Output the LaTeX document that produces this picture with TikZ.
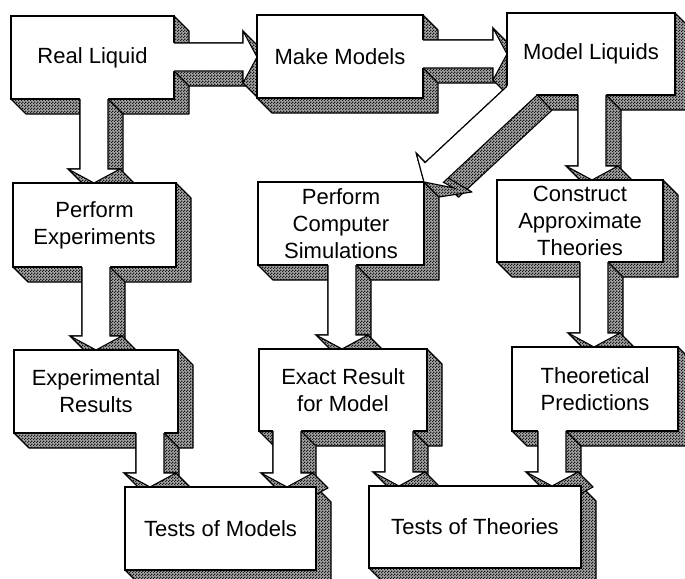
\documentclass[tikz,border=0pt]{standalone}
\usepackage{fontspec}
\setmainfont{Liberation Sans}
\usetikzlibrary{calc,patterns.meta}

\pgfdeclarelayer{back}
\pgfsetlayers{back,main}

\tikzdeclarepattern{
    name=dither, type=uncolored,
    bottom left={(0pt,0pt)}, top right={(3pt,3pt)}, tile size={(3pt,3pt)},
    code={
        \pgfpathrectangle{\pgfpoint{0pt}{0pt}}{\pgfpoint{1.5pt}{1.5pt}}
        \pgfpathrectangle{\pgfpoint{1.5pt}{1.5pt}}{\pgfpoint{1.5pt}{1.5pt}}
        \pgfusepath{fill}
    }
}

\tikzset{
    stage/.style={draw, fill=white, line width=1.1pt, inner sep=0pt, outer sep=0pt,
        align=center, font=\fontsize{22}{27}\selectfont},
    shadowface/.style={preaction={fill=black!35}, pattern=dither, pattern color=black!90,
        draw, line width=1.1pt, line join=round},
    rim/.style={line width=1.1pt, line join=miter}
}

\newcommand{\bdepth}{15}  % depth of the extrusion
\newcommand{\bshaft}{28}  % width of an arrow shaft
\newcommand{\bhead}{26}   % half width of an arrow head
\newcommand{\bheadlen}{14}% length of an arrow head

% shadow side of a box
\newcommand{\boxshade}[1]{%
    \draw[shadowface] (#1.north east) -- ++(\bdepth,-\bdepth)
        -- ($(#1.south east)+(\bdepth,-\bdepth)$) -- ($(#1.south west)+(\bdepth,-\bdepth)$)
        -- (#1.south west) -- (#1.south east) -- cycle;}

% block arrow going down: from, to, left x of shaft
\newcommand{\blockdown}[3]{%
    \path (#1.south); \pgfgetlastxy{\tmpx}{\tmpy}\pgfmathsetmacro{\yTop}{\tmpy}
    \path (#2.north); \pgfgetlastxy{\tmpx}{\tmpy}\pgfmathsetmacro{\yTip}{\tmpy}
    \pgfmathsetmacro{\shL}{#3}
    \pgfmathsetmacro{\shR}{#3+\bshaft}
    \pgfmathsetmacro{\shM}{#3+\bshaft/2}
    \pgfmathsetmacro{\yBase}{\yTip+\bheadlen}
    \begin{pgfonlayer}{back}
        \draw[shadowface] (\shL,\yTop) -- (\shR,\yTop) -- ++(\bdepth,-\bdepth)
            -- (\shR+\bdepth,\yBase-\bdepth) -- (\shL+\bdepth,\yBase-\bdepth) -- (\shL,\yBase) -- cycle;
        \draw[shadowface] (\shM-\bhead,\yBase) -- (\shM+\bhead,\yBase) -- ++(\bdepth,-\bdepth)
            -- (\shM+\bdepth,\yTip-\bdepth) -- (\shM-\bhead+\bdepth,\yBase-\bdepth) -- cycle;
    \end{pgfonlayer}
    \fill[white] (\shL,\yTop+2) -- (\shL,\yBase) -- (\shM-\bhead,\yBase) -- (\shM,\yTip)
        -- (\shM+\bhead,\yBase) -- (\shR,\yBase) -- (\shR,\yTop+2) -- cycle;
    \draw[rim] (\shL,\yTop) -- (\shL,\yBase) -- (\shM-\bhead,\yBase) -- (\shM,\yTip)
        -- (\shM+\bhead,\yBase) -- (\shR,\yBase) -- (\shR,\yTop);
}

% block arrow going right: from, to, top y of shaft
\newcommand{\blockright}[3]{%
    \path (#1.east); \pgfgetlastxy{\tmpx}{\tmpy}\pgfmathsetmacro{\xFrom}{\tmpx}
    \path (#2.west); \pgfgetlastxy{\tmpx}{\tmpy}\pgfmathsetmacro{\xTip}{\tmpx}
    \pgfmathsetmacro{\shT}{#3}
    \pgfmathsetmacro{\shB}{#3-\bshaft}
    \pgfmathsetmacro{\shM}{#3-\bshaft/2}
    \pgfmathsetmacro{\xBase}{\xTip-\bheadlen}
    \begin{pgfonlayer}{back}
        \draw[shadowface] (\xFrom,\shT) -- (\xBase,\shT) -- ++(\bdepth,-\bdepth)
            -- (\xBase+\bdepth,\shB-\bdepth) -- (\xFrom+\bdepth,\shB-\bdepth) -- (\xFrom,\shB) -- cycle;
        \draw[shadowface] (\xBase,\shM+\bhead) -- ++(\bdepth,-\bdepth)
            -- (\xTip+\bdepth,\shM-\bdepth) -- (\xBase+\bdepth,\shM-\bhead-\bdepth)
            -- (\xBase,\shM-\bhead) -- cycle;
    \end{pgfonlayer}
    \fill[white] (\xFrom-2,\shT) -- (\xBase,\shT) -- (\xBase,\shM+\bhead) -- (\xTip,\shM)
        -- (\xBase,\shM-\bhead) -- (\xBase,\shB) -- (\xFrom-2,\shB) -- cycle;
    \draw[rim] (\xFrom,\shT) -- (\xBase,\shT) -- (\xBase,\shM+\bhead) -- (\xTip,\shM)
        -- (\xBase,\shM-\bhead) -- (\xBase,\shB) -- (\xFrom,\shB);
}

\begin{document}
\begin{tikzpicture}[x=1pt, y=1pt]
    \useasboundingbox (0,0) rectangle (685,-578);

    % top row
    \node[stage, minimum width=163pt, minimum height=83pt] (real) at (92.5,-57.5) {Real Liquid};
    \node[stage, minimum width=166pt, minimum height=83pt] (make) at (340,-56.5) {Make Models};
    \node[stage, minimum width=168pt, minimum height=82pt] (model) at (591,-54) {Model Liquids};

    % second row
    \node[stage, minimum width=163pt, minimum height=84pt] (exper) at (94.5,-225) {Perform\\Experiments};
    \node[stage, minimum width=166pt, minimum height=83pt] (simul) at (341,-223.5) {Perform\\Computer\\Simulations};
    \node[stage, minimum width=166pt, minimum height=82pt] (approx) at (580,-221) {Construct\\Approximate\\Theories};

    % third row
    \node[stage, minimum width=164pt, minimum height=83pt] (expres) at (96,-391.5) {Experimental\\Results};
    \node[stage, minimum width=168pt, minimum height=82pt] (exact) at (343,-390) {Exact Result\\for Model};
    \node[stage, minimum width=166pt, minimum height=84pt] (predict) at (595,-389) {Theoretical\\Predictions};

    % bottom row
    \node[stage, minimum width=191pt, minimum height=83pt] (testm) at (220.5,-528.5) {Tests of Models};
    \node[stage, minimum width=212pt, minimum height=82pt] (testt) at (475,-527) {Tests of Theories};

    \begin{pgfonlayer}{back}
        \foreach \n in {real,make,model,exper,simul,approx,expres,exact,predict,testm,testt}
            \boxshade{\n};
    \end{pgfonlayer}

    % arrows
    \blockright{real}{make}{-43}
    \blockright{make}{model}{-40}
    \blockdown{real}{exper}{80}
    \blockdown{model}{approx}{578}
    \blockdown{exper}{expres}{82}
    \blockdown{simul}{exact}{328}
    \blockdown{approx}{predict}{580}
    \blockdown{expres}{testm}{136}
    \blockdown{exact}{testm}{273}
    \blockdown{exact}{testt}{385}
    \blockdown{predict}{testt}{538}

    % slanted arrow to the simulations
    \coordinate (dtip) at (simul.north east);
    \begin{pgfonlayer}{back}
        \draw[shadowface] ($(dtip)+(94.48,106.4)$) -- ($(dtip)+(1.04,19.38)$) -- ($(dtip)+(19.40,-0.34)$)
            -- ($(dtip)+(34.40,-15.34)$) -- ($(dtip)+(127.84,71.7)$) -- ($(dtip)+(109.48,91.4)$) -- cycle;
        \draw[shadowface] ($(dtip)+(-7.8,28.9)$) -- (dtip) -- ($(dtip)+(15,-15)$)
            -- ($(dtip)+(48,-10)$) -- ($(dtip)+(7.2,13.9)$) -- cycle;
    \end{pgfonlayer}
    \fill[white] ($(dtip)+(94.48,106.4)$) -- ($(dtip)+(1.04,19.38)$) -- ($(dtip)+(-7.8,28.9)$) -- (dtip)
        -- ($(dtip)+(30,-6)$) -- ($(dtip)+(19.40,-0.34)$) -- ($(dtip)+(112.84,86.7)$) -- cycle;
    \draw[rim] ($(dtip)+(83,95.7)$) -- ($(dtip)+(1.04,19.38)$) -- ($(dtip)+(-7.8,28.9)$) -- (dtip)
        -- ($(dtip)+(30,-6)$) -- ($(dtip)+(19.40,-0.34)$) -- ($(dtip)+(112.84,86.7)$);
\end{tikzpicture}
\end{document}
